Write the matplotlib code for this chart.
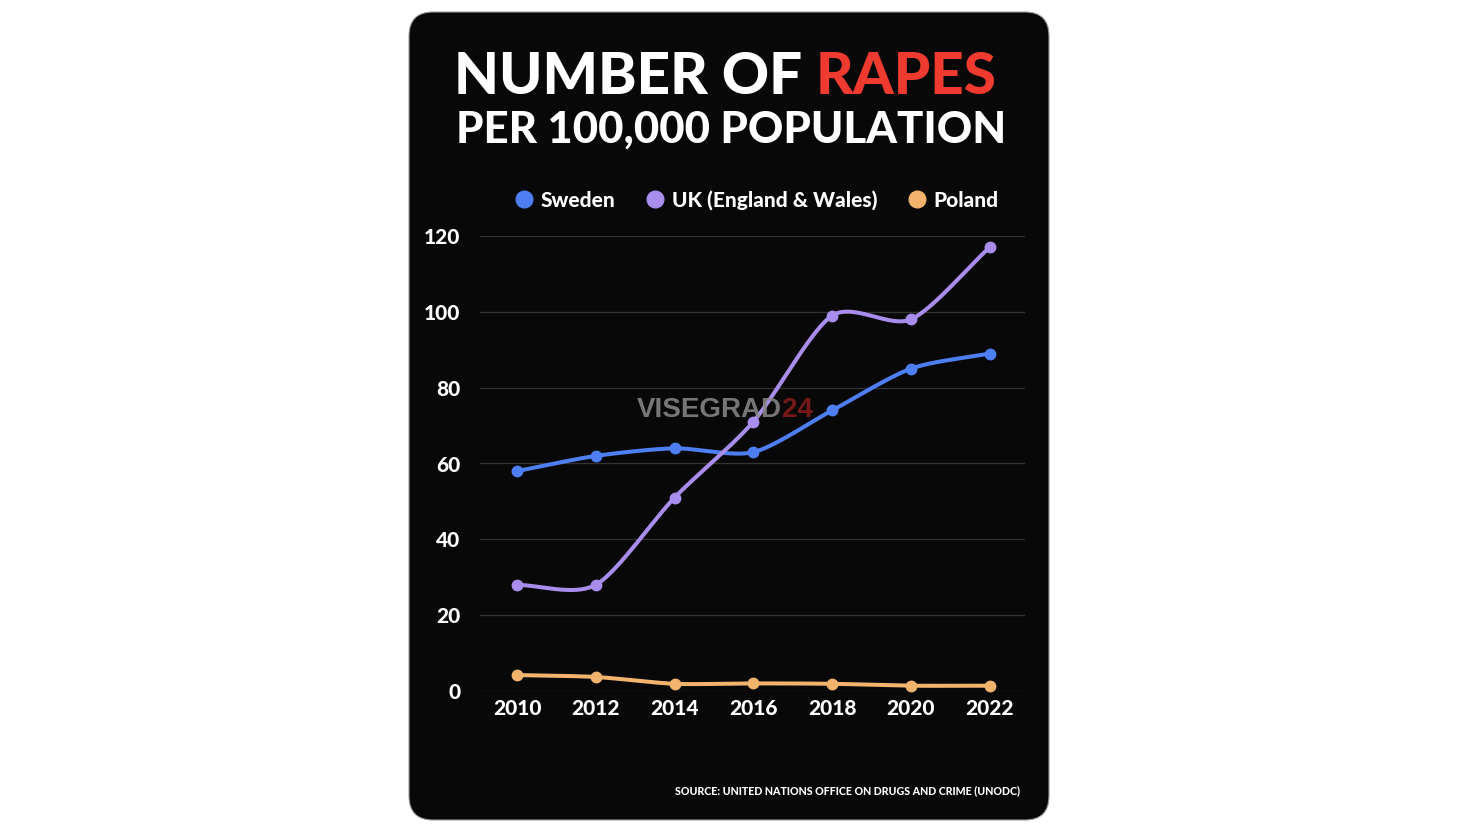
import matplotlib
matplotlib.use("Agg")
import matplotlib.pyplot as plt
import numpy as np
from matplotlib.patches import FancyBboxPatch
from matplotlib.lines import Line2D
from matplotlib.transforms import IdentityTransform

years = [2010, 2012, 2014, 2016, 2018, 2020, 2022]
sweden = [58, 62, 64, 63, 74, 85, 89]
uk = [28, 28, 51, 71, 99, 98, 117]
poland = [4.2, 3.7, 1.9, 2.0, 1.9, 1.4, 1.4]
series_names = ["Sweden", "UK (England & Wales)", "Poland"]
yticks = [0, 20, 40, 60, 80, 100, 120]
source = "SOURCE: UNITED NATIONS OFFICE ON DRUGS AND CRIME (UNODC)"

colors = ["#4d7ef2", "#a98ded", "#f2b36c"]
red = "#ef3b2f"
fam = ["Lato", "DejaVu Sans"]


def smooth(x, y, n=40, tension=0.8):
    # cardinal spline through the points, only for drawing the curve
    x = np.asarray(x, float)
    y = np.asarray(y, float)
    px = np.concatenate([[2 * x[0] - x[1]], x, [2 * x[-1] - x[-2]]])
    py = np.concatenate([[2 * y[0] - y[1]], y, [2 * y[-1] - y[-2]]])
    xs, ys = [], []
    t = np.linspace(0, 1, n)
    h00 = 2 * t ** 3 - 3 * t ** 2 + 1
    h10 = t ** 3 - 2 * t ** 2 + t
    h01 = -2 * t ** 3 + 3 * t ** 2
    h11 = t ** 3 - t ** 2
    for i in range(1, len(px) - 2):
        for p, out in ((px, xs), (py, ys)):
            m1 = tension * (p[i + 1] - p[i - 1]) / 2
            m2 = tension * (p[i + 2] - p[i]) / 2
            out.append(h00 * p[i] + h10 * m1 + h01 * p[i + 1] + h11 * m2)
    return np.concatenate(xs), np.concatenate(ys)


fig = plt.figure(figsize=(14.7, 8.3), dpi=100, facecolor="white")

# black card
card = FancyBboxPatch((409, 10), 640, 808, boxstyle="round,pad=0,rounding_size=24",
                      transform=IdentityTransform(), facecolor="#080808",
                      edgecolor="#9a9a9a", linewidth=0.8, zorder=-5)
fig.patches.append(card)

# title
renderer = fig.canvas.get_renderer()
t1 = fig.text(0, 1 - 77 / 830, "NUMBER OF ", color="white", fontsize=42,
              fontweight="black", family=fam, va="center", ha="left")
t2 = fig.text(0, 1 - 77 / 830, "RAPES", color=red, fontsize=42,
              fontweight="black", family=fam, va="center", ha="left")
w1 = t1.get_window_extent(renderer).width
w2 = t2.get_window_extent(renderer).width
x0 = 725 - (w1 + w2) / 2
t1.set_x(x0 / 1470)
t2.set_x((x0 + w1) / 1470)
fig.text(731 / 1470, 1 - 130 / 830, "PER 100,000 POPULATION", color="white",
         fontsize=31.5, fontweight="black", family=fam, ha="center", va="center")

ax = fig.add_axes([480 / 1470, 1 - 691 / 830, 545 / 1470, 455 / 830], zorder=2)
ax.set_facecolor("none")
ax.patch.set_alpha(0)

for vals, c in zip([sweden, uk, poland], colors):
    sx, sy = smooth(years, vals)
    ax.plot(sx, sy, color=c, lw=2.9, solid_capstyle="round", zorder=3)
    ax.plot(years, vals, "o", color=c, ms=7.5, zorder=4, clip_on=False)

ax.set_xlim(2009.06, 2022.9)
ax.set_ylim(0, 120)
ax.set_xticks(years)
ax.set_yticks(yticks)
ax.grid(axis="y", color="#333333", lw=0.9)
ax.set_axisbelow(True)
for s in ax.spines.values():
    s.set_visible(False)
ax.tick_params(length=0, colors="white", labelsize=15)
ax.tick_params(axis="y", pad=14)
ax.tick_params(axis="x", pad=6)
for lab in ax.get_xticklabels() + ax.get_yticklabels():
    lab.set_fontweight("black")
    lab.set_family(fam)

handles = [Line2D([], [], ls="none", marker="o", ms=12, color=c) for c in colors]
leg = ax.legend(handles, series_names, loc="center", bbox_to_anchor=(0.505, 1.079),
                ncol=3, frameon=False, handletextpad=0.2, columnspacing=1.3,
                handlelength=1.2, prop={"family": fam, "weight": "black", "size": 15})
for txt in leg.get_texts():
    txt.set_color("white")

# watermark
fig.text(782 / 1470, 1 - 410 / 830, "VISEGRAD", color="#8a8a8a", alpha=0.85,
         fontsize=20, fontweight="bold", family=["Liberation Sans Narrow", "Liberation Sans"],
         ha="right", va="center", zorder=5)
fig.text(782 / 1470, 1 - 410 / 830, "24", color="#8b1c1c", alpha=0.85,
         fontsize=20, fontweight="bold", family=["Liberation Sans Narrow", "Liberation Sans"],
         ha="left", va="center", zorder=5)

fig.text(1020 / 1470, 1 - 791 / 830, source, color="white", fontsize=7.7,
         fontweight="black", family=fam, ha="right", va="center")

fig.savefig("out.png", dpi=100, facecolor="white")
